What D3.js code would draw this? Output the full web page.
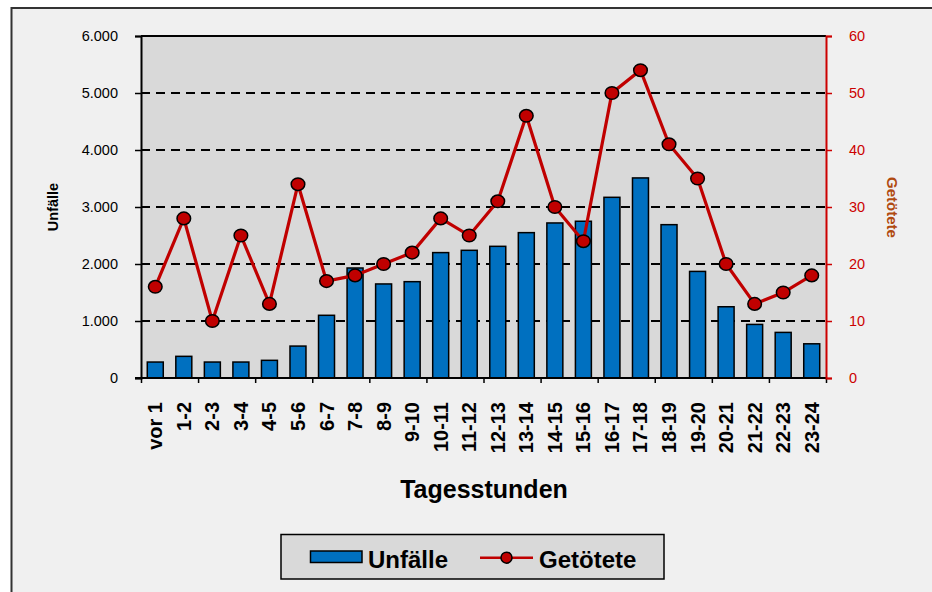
<!DOCTYPE html>
<html>
<head>
<meta charset="utf-8">
<script src="https://cdn.jsdelivr.net/npm/d3@7"></script>
<style>
  body { margin: 0; background: #fff; }
  text { font-family: Arial, "Liberation Sans", sans-serif; }
</style>
</head>
<body>
<div id="chart-area"></div>
<script>
var w = 932;
var h = 592;

// data
var hours = ["vor 1", "1-2", "2-3", "3-4", "4-5", "5-6", "6-7", "7-8", "8-9", "9-10", "10-11", "11-12",
             "12-13", "13-14", "14-15", "15-16", "16-17", "17-18", "18-19", "19-20", "20-21", "21-22", "22-23", "23-24"];
var unfaelle = [280, 380, 280, 280, 310, 560, 1100, 1930, 1650, 1690, 2200, 2240,
                2310, 2550, 2720, 2750, 3170, 3510, 2690, 1870, 1250, 940, 800, 600];
var getoetete = [16, 28, 10, 25, 13, 34, 17, 18, 20, 22, 28, 25,
                 31, 46, 30, 24, 50, 54, 41, 35, 20, 13, 15, 18];
var leftTicks = [0, 1000, 2000, 3000, 4000, 5000, 6000];
var rightTicks = [0, 10, 20, 30, 40, 50, 60];

var barColor = "#0070c0";
var lineColor = "#c00000";

var plotL = 141, plotR = 826, plotT = 36, plotB = 378;

var svg = d3.select('#chart-area').append('svg')
        .attr('width', w)
        .attr('height', h);

// outer chart background
svg.append('rect')
    .attr('x', 11.5).attr('y', 8)
    .attr('width', w + 20).attr('height', h + 20)
    .attr('fill', '#f0f0f0')
    .attr('stroke', '#333')
    .attr('stroke-width', 2);

// plot area
svg.append('rect')
    .attr('x', plotL).attr('y', plotT)
    .attr('width', plotR - plotL).attr('height', plotB - plotT)
    .attr('fill', '#d9d9d9');

var x = d3.scaleBand()
    .domain(hours)
    .range([plotL, plotR])
    .paddingInner(0.44)
    .paddingOuter(0.22);
var xIdx = d3.scaleLinear().domain([0, hours.length]).range([plotL, plotR]);
var y = d3.scaleLinear().domain([0, 6000]).range([plotB, plotT]);
var y2 = d3.scaleLinear().domain([0, 60]).range([plotB, plotT]);

var de = d3.formatLocale({decimal: ",", thousands: ".", grouping: [3], currency: ["", " €"]});
var fmt = de.format(",");

// gridlines
svg.append('g').selectAll('line')
    .data(leftTicks.filter(d => d > 0 && d < 6000))
    .enter()
    .append('line')
    .attr('x1', plotL).attr('x2', plotR)
    .attr('y1', d => y(d)).attr('y2', d => y(d))
    .attr('stroke', '#000')
    .attr('stroke-width', 1.8)
    .attr('stroke-dasharray', '9,6');
svg.append('line')
    .attr('x1', plotL).attr('x2', plotR)
    .attr('y1', plotT).attr('y2', plotT)
    .attr('stroke', '#000').attr('stroke-width', 2);

// bars
svg.append('g').selectAll('rect')
    .data(unfaelle)
    .enter()
    .append('rect')
    .attr('x', (d, i) => x(hours[i]))
    .attr('y', d => y(d))
    .attr('width', x.bandwidth())
    .attr('height', d => plotB - y(d))
    .attr('fill', barColor)
    .attr('stroke', '#000')
    .attr('stroke-width', 1.5);

// left axis
var yAxis = svg.append('g')
    .attr('transform', 'translate(' + plotL + ',0)')
    .call(d3.axisLeft(y).tickValues(leftTicks).tickSize(6).tickPadding(17).tickFormat(fmt));
yAxis.select('.domain').attr('stroke', '#000').attr('stroke-width', 2);
yAxis.selectAll('line').attr('stroke', '#000').attr('stroke-width', 1.5);
yAxis.selectAll('text').attr('font-size', 14.5).attr('fill', '#000')
    .attr('font-family', 'Arial, "Liberation Sans", sans-serif');

// bottom axis (ticks every two hours)
var xAxis = svg.append('g')
    .attr('transform', 'translate(0,' + plotB + ')')
    .call(d3.axisBottom(xIdx).tickValues(d3.range(0, hours.length + 1, 2)).tickSize(5).tickFormat(''));
xAxis.select('.domain').attr('stroke', '#000').attr('stroke-width', 2)
    .attr('d', 'M' + (plotL - 6) + ',0H' + plotR);
xAxis.selectAll('line').attr('stroke', '#000').attr('stroke-width', 1.5);

svg.append('g').selectAll('text')
    .data(hours)
    .enter()
    .append('text')
    .attr('transform', d => 'translate(' + (x(d) + x.bandwidth() / 2) + ',402) rotate(-90)')
    .attr('dy', '0.35em')
    .attr('text-anchor', 'end')
    .attr('font-size', 20)
    .attr('font-weight', 'bold')
    .text(d => d);

// right axis
var y2Axis = svg.append('g')
    .attr('transform', 'translate(' + plotR + ',0)')
    .call(d3.axisRight(y2).tickValues(rightTicks).tickSize(6).tickPadding(17));
y2Axis.select('.domain').attr('stroke', '#cc0000').attr('stroke-width', 2);
y2Axis.selectAll('line').attr('stroke', '#cc0000').attr('stroke-width', 1.5);
y2Axis.selectAll('text').attr('font-size', 14.5).attr('fill', '#cc0000')
    .attr('font-family', 'Arial, "Liberation Sans", sans-serif');

// line with markers
var line = d3.line()
    .x((d, i) => x(hours[i]) + x.bandwidth() / 2)
    .y(d => y2(d));
svg.append('path')
    .datum(getoetete)
    .attr('d', line)
    .attr('fill', 'none')
    .attr('stroke', lineColor)
    .attr('stroke-width', 3.2);
svg.append('g').selectAll('ellipse')
    .data(getoetete)
    .enter()
    .append('ellipse')
    .attr('cx', (d, i) => x(hours[i]) + x.bandwidth() / 2)
    .attr('cy', d => y2(d))
    .attr('rx', 6.8).attr('ry', 6.3)
    .attr('fill', lineColor)
    .attr('stroke', '#000')
    .attr('stroke-width', 1.5);

// axis titles
svg.append('text')
    .attr('transform', 'translate(58,207) rotate(-90)')
    .attr('text-anchor', 'middle')
    .attr('font-size', 14.5)
    .attr('font-weight', 'bold')
    .text("Unfälle");
svg.append('text')
    .attr('transform', 'translate(887,207.5) rotate(90)')
    .attr('text-anchor', 'middle')
    .attr('font-size', 15)
    .attr('font-weight', 'bold')
    .attr('fill', '#b04a10')
    .text("Getötete");
svg.append('text')
    .attr('x', 484).attr('y', 498)
    .attr('text-anchor', 'middle')
    .attr('font-size', 25)
    .attr('font-weight', 'bold')
    .text("Tagesstunden");

// legend
var legend = svg.append('g');
legend.append('rect')
    .attr('x', 281).attr('y', 534.5)
    .attr('width', 383).attr('height', 44.5)
    .attr('fill', '#d9d9d9')
    .attr('stroke', '#000')
    .attr('stroke-width', 1.5);
legend.append('rect')
    .attr('x', 310.5).attr('y', 551)
    .attr('width', 51.5).attr('height', 11.5)
    .attr('fill', barColor)
    .attr('stroke', '#000')
    .attr('stroke-width', 1.5);
legend.append('text')
    .attr('x', 368).attr('y', 568)
    .attr('font-size', 24)
    .attr('font-weight', 'bold')
    .text("Unfälle");
legend.append('line')
    .attr('x1', 480).attr('x2', 533)
    .attr('y1', 557.7).attr('y2', 557.7)
    .attr('stroke', lineColor)
    .attr('stroke-width', 2.5);
legend.append('circle')
    .attr('cx', 506.5).attr('cy', 557.7)
    .attr('r', 5.5)
    .attr('fill', lineColor)
    .attr('stroke', '#000')
    .attr('stroke-width', 1.5);
legend.append('text')
    .attr('x', 539).attr('y', 568)
    .attr('font-size', 24)
    .attr('font-weight', 'bold')
    .text("Getötete");
</script>
</body>
</html>
